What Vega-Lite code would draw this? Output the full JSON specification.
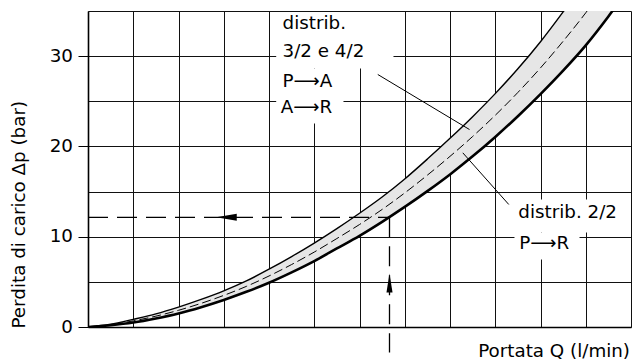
{
  "$schema": "https://vega.github.io/schema/vega-lite/v6.json",
  "width": 543,
  "height": 316,
  "autosize": {"type": "none"},
  "padding": {"left": 88, "top": 11, "right": 4, "bottom": 34},
  "background": "white",
  "config": {"view": {"stroke": null}, "font": "DejaVu Sans"},
  "datasets": {
    "curves": [
      {"Q": 0, "V": 0, "curve": "upper"}, {"Q": 0, "V": 0, "curve": "lower"}, {"Q": 0, "V": 0, "curve": "middle"},
      {"Q": 0.5, "V": 0.3, "curve": "upper"}, {"Q": 0.5, "V": 0.2, "curve": "lower"}, {"Q": 0.5, "V": 0.25, "curve": "middle"},
      {"Q": 1, "V": 0.85, "curve": "upper"}, {"Q": 1, "V": 0.5, "curve": "lower"}, {"Q": 1, "V": 0.68, "curve": "middle"},
      {"Q": 1.5, "V": 1.45, "curve": "upper"}, {"Q": 1.5, "V": 0.95, "curve": "lower"}, {"Q": 1.5, "V": 1.2, "curve": "middle"},
      {"Q": 2, "V": 2.2, "curve": "upper"}, {"Q": 2, "V": 1.5, "curve": "lower"}, {"Q": 2, "V": 1.85, "curve": "middle"},
      {"Q": 2.5, "V": 3.05, "curve": "upper"}, {"Q": 2.5, "V": 2.2, "curve": "lower"}, {"Q": 2.5, "V": 2.62, "curve": "middle"},
      {"Q": 3, "V": 4.0, "curve": "upper"}, {"Q": 3, "V": 3.0, "curve": "lower"}, {"Q": 3, "V": 3.5, "curve": "middle"},
      {"Q": 3.5, "V": 5.1, "curve": "upper"}, {"Q": 3.5, "V": 3.9, "curve": "lower"}, {"Q": 3.5, "V": 4.5, "curve": "middle"},
      {"Q": 4, "V": 6.4, "curve": "upper"}, {"Q": 4, "V": 4.9, "curve": "lower"}, {"Q": 4, "V": 5.65, "curve": "middle"},
      {"Q": 4.5, "V": 7.8, "curve": "upper"}, {"Q": 4.5, "V": 6.05, "curve": "lower"}, {"Q": 4.5, "V": 6.92, "curve": "middle"},
      {"Q": 5, "V": 9.3, "curve": "upper"}, {"Q": 5, "V": 7.3, "curve": "lower"}, {"Q": 5, "V": 8.3, "curve": "middle"},
      {"Q": 5.5, "V": 10.9, "curve": "upper"}, {"Q": 5.5, "V": 8.7, "curve": "lower"}, {"Q": 5.5, "V": 9.8, "curve": "middle"},
      {"Q": 6, "V": 12.6, "curve": "upper"}, {"Q": 6, "V": 10.1, "curve": "lower"}, {"Q": 6, "V": 11.35, "curve": "middle"},
      {"Q": 6.5, "V": 14.4, "curve": "upper"}, {"Q": 6.5, "V": 11.65, "curve": "lower"}, {"Q": 6.5, "V": 13.02, "curve": "middle"},
      {"Q": 7, "V": 16.4, "curve": "upper"}, {"Q": 7, "V": 13.3, "curve": "lower"}, {"Q": 7, "V": 14.85, "curve": "middle"},
      {"Q": 7.5, "V": 18.6, "curve": "upper"}, {"Q": 7.5, "V": 15.05, "curve": "lower"}, {"Q": 7.5, "V": 16.82, "curve": "middle"},
      {"Q": 8, "V": 20.9, "curve": "upper"}, {"Q": 8, "V": 16.9, "curve": "lower"}, {"Q": 8, "V": 18.9, "curve": "middle"},
      {"Q": 8.5, "V": 23.3, "curve": "upper"}, {"Q": 8.5, "V": 18.9, "curve": "lower"}, {"Q": 8.5, "V": 21.1, "curve": "middle"},
      {"Q": 9, "V": 25.85, "curve": "upper"}, {"Q": 9, "V": 21.05, "curve": "lower"}, {"Q": 9, "V": 23.45, "curve": "middle"},
      {"Q": 9.5, "V": 28.6, "curve": "upper"}, {"Q": 9.5, "V": 23.35, "curve": "lower"}, {"Q": 9.5, "V": 25.98, "curve": "middle"},
      {"Q": 10, "V": 31.6, "curve": "upper"}, {"Q": 10, "V": 25.8, "curve": "lower"}, {"Q": 10, "V": 28.7, "curve": "middle"},
      {"Q": 10.5, "V": 34.9, "curve": "upper"}, {"Q": 10.5, "V": 28.4, "curve": "lower"}, {"Q": 10.5, "V": 31.65, "curve": "middle"},
      {"Q": 11, "V": 38.4, "curve": "upper"}, {"Q": 11, "V": 31.2, "curve": "lower"}, {"Q": 11, "V": 34.8, "curve": "middle"},
      {"Q": 11.5, "V": 42.1, "curve": "upper"}, {"Q": 11.5, "V": 34.4, "curve": "lower"}, {"Q": 11.5, "V": 38.25, "curve": "middle"},
      {"Q": 12, "V": 46.0, "curve": "upper"}, {"Q": 12, "V": 37.9, "curve": "lower"}, {"Q": 12, "V": 41.95, "curve": "middle"}
    ],
    "masks": [
      {"Q": 4.159, "Q2": 6.751, "V": 34.88, "V2": 28.63},
      {"Q": 4.159, "Q2": 5.646, "V": 28.63, "V2": 22.55},
      {"Q": 9.381, "Q2": 11.856, "V": 14.12, "V2": 10.47},
      {"Q": 9.425, "Q2": 10.862, "V": 10.47, "V2": 7.48}
    ],
    "leaders": [
      {"Q": 6.404, "V": 27.97, "Q2": 8.431, "V2": 21.87},
      {"Q": 8.283, "V": 19.29, "Q2": 9.299, "V2": 13.57}
    ],
    "guides": [
      {"Q": 0, "V": 12.15, "Q2": 6.663, "V2": 12.15},
      {"Q": 6.663, "V": 12.15, "Q2": 6.663, "V2": -2.82}
    ],
    "arrows": [
      {"Q": 3.06, "V": 12.15, "dir": "left"},
      {"Q": 6.663, "V": 4.87, "dir": "up"}
    ],
    "labels": [
      {"Q": 4.3, "V": 32.96, "label": "distrib."},
      {"Q": 4.3, "V": 29.88, "label": "3/2 e 4/2"},
      {"Q": 4.3, "V": 26.6, "label": "P⟶A"},
      {"Q": 4.262, "V": 23.72, "label": "A⟶R"},
      {"Q": 9.51, "V": 12.09, "label": "distrib. 2/2"},
      {"Q": 9.53, "V": 8.69, "label": "P⟶R"}
    ]
  },
  "encoding": {
    "x": {
      "field": "Q",
      "type": "quantitative",
      "scale": {"domain": [0, 12], "nice": false, "zero": false},
      "axis": {
        "values": [0, 1, 2, 3, 4, 5, 6, 7, 8, 9, 10, 11, 12],
        "grid": true,
        "gridColor": "#111111",
        "gridWidth": 1,
        "ticks": false,
        "labels": false,
        "domain": true,
        "domainColor": "black",
        "domainWidth": 1.6,
        "title": "Portata Q (l/min)",
        "titleFont": "DejaVu Sans",
        "titleFontSize": 18.3,
        "titleFontWeight": "normal",
        "titleColor": "black",
        "titleAlign": "right",
        "titleBaseline": "alphabetic",
        "titleX": 541.5,
        "titleY": 29.2
      }
    },
    "y": {
      "field": "V",
      "type": "quantitative",
      "scale": {"domain": [0, 35], "nice": false, "zero": false},
      "axis": {
        "values": [0, 5, 10, 15, 20, 25, 30, 35],
        "grid": true,
        "gridColor": "#111111",
        "gridWidth": 1,
        "domain": true,
        "domainColor": "black",
        "domainWidth": 1.6,
        "ticks": true,
        "tickSize": 10,
        "tickColor": "black",
        "tickWidth": 1,
        "tickOpacity": {"condition": {"test": "datum.value % 10 === 0", "value": 1}, "value": 0},
        "labelExpr": "datum.value % 10 === 0 ? datum.label : ''",
        "labelOverlap": false,
        "labelFont": "DejaVu Sans",
        "labelFontSize": 18.3,
        "labelColor": "black",
        "labelPadding": 5.5,
        "title": "Perdita di carico Δp (bar)",
        "titleFont": "DejaVu Sans",
        "titleFontSize": 18.3,
        "titleFontWeight": "normal",
        "titleColor": "black",
        "titleAngle": 270,
        "titleAlign": "left",
        "titleBaseline": "alphabetic",
        "titleX": -63.5,
        "titleY": 317
      }
    }
  },
  "layer": [
    {
      "data": {"name": "curves"},
      "transform": [{"pivot": "curve", "value": "V", "groupby": ["Q"]}],
      "mark": {"type": "area", "clip": true, "fill": "#e6e6e6", "interpolate": "monotone"},
      "encoding": {
        "y": {"field": "lower", "type": "quantitative"},
        "y2": {"field": "upper"}
      }
    },
    {
      "data": {"name": "curves"},
      "transform": [{"filter": "datum.curve === 'middle'"}],
      "mark": {"type": "line", "clip": true, "color": "black", "strokeWidth": 1, "strokeDash": [9, 4], "interpolate": "monotone"}
    },
    {
      "data": {"name": "curves"},
      "transform": [{"filter": "datum.curve === 'upper'"}],
      "mark": {"type": "line", "clip": true, "color": "black", "strokeWidth": 1.4, "interpolate": "monotone"}
    },
    {
      "data": {"name": "curves"},
      "transform": [{"filter": "datum.curve === 'lower'"}],
      "mark": {"type": "line", "clip": true, "color": "black", "strokeWidth": 2.6, "interpolate": "monotone"}
    },
    {
      "data": {"name": "masks"},
      "mark": {"type": "rect", "fill": "white", "stroke": null},
      "encoding": {
        "x2": {"field": "Q2"},
        "y2": {"field": "V2"}
      }
    },
    {
      "data": {"name": "leaders"},
      "mark": {"type": "rule", "color": "black", "strokeWidth": 1},
      "encoding": {
        "x2": {"field": "Q2"},
        "y2": {"field": "V2"}
      }
    },
    {
      "data": {"name": "guides"},
      "mark": {"type": "rule", "color": "black", "strokeWidth": 1.3, "strokeDash": [20, 9]},
      "encoding": {
        "x2": {"field": "Q2"},
        "y2": {"field": "V2"}
      }
    },
    {
      "data": {"name": "arrows"},
      "transform": [{"filter": "datum.dir === 'left'"}],
      "mark": {"type": "point", "filled": true, "color": "black", "opacity": 1, "shape": "M -1 0 L 1 -0.34 L 1 0.34 Z", "size": 424}
    },
    {
      "data": {"name": "arrows"},
      "transform": [{"filter": "datum.dir === 'up'"}],
      "mark": {"type": "point", "filled": true, "color": "black", "opacity": 1, "shape": "M 0 -1 L 0.32 1 L -0.32 1 Z", "size": 361}
    },
    {
      "data": {"name": "labels"},
      "mark": {"type": "text", "align": "left", "baseline": "alphabetic", "font": "DejaVu Sans", "fontSize": 18.3, "color": "black"},
      "encoding": {
        "text": {"field": "label", "type": "nominal"}
      }
    }
  ]
}
